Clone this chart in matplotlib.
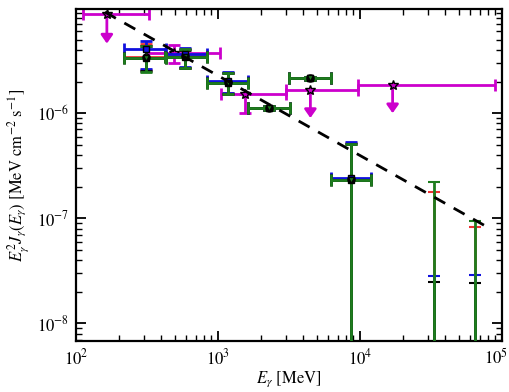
import numpy as np
import matplotlib
matplotlib.use("Agg")
import matplotlib.pyplot as plt
from matplotlib.transforms import ScaledTranslation

plt.rcParams['font.family'] = 'serif'
plt.rcParams['font.serif'] = ['STIXGeneral', 'Liberation Serif', 'DejaVu Serif']
plt.rcParams['mathtext.fontset'] = 'stix'

# ---- binned spectral points (4 analysis variants) ----
bin_E = [311, 590, 1180, 2300, 4450, 8650]
bin_lo = [218, 425, 837, 1630, 3180, 6250]
bin_hi = [430, 837, 1630, 3200, 6250, 12000]

red_F = [3.41e-6, 3.50e-6, 1.97e-6, 1.12e-6, 2.15e-6, 2.35e-7]
red_up = [4.54e-6, 4.05e-6, 2.40e-6, 1.16e-6, 2.22e-6, 5.2e-7]
red_dn = [2.55e-6, 2.70e-6, 1.55e-6, 1.08e-6, 2.08e-6, 1e-12]

blue_F = [4.07e-6, 3.65e-6, 2.02e-6, 1.12e-6, 2.15e-6, 2.40e-7]
blue_up = [4.85e-6, 4.16e-6, 2.46e-6, 1.16e-6, 2.22e-6, 5.3e-7]
blue_dn = [2.62e-6, 2.74e-6, 1.55e-6, 1.08e-6, 2.08e-6, 1e-12]

green_F = [3.34e-6, 3.45e-6, 1.93e-6, 1.12e-6, 2.15e-6, 2.30e-7]
green_up = [4.40e-6, 4.05e-6, 2.40e-6, 1.16e-6, 2.22e-6, 5.1e-7]
green_dn = [2.46e-6, 2.68e-6, 1.52e-6, 1.08e-6, 2.08e-6, 1e-12]

black_F = [3.34e-6, 3.41e-6, 1.93e-6, 1.12e-6, 2.15e-6, 2.30e-7]
black_up = [4.40e-6, 4.00e-6, 2.40e-6, 1.16e-6, 2.22e-6, 5.1e-7]
black_dn = [2.50e-6, 2.70e-6, 1.52e-6, 1.08e-6, 2.08e-6, 1e-12]

# high-energy bins: only upper ends of error bars visible
hi_E = [33500, 65000]
red_hiE = [1.77e-7, 8.2e-8]
blue_hiE = [2.8e-8, 2.9e-8]
green_hiE = [2.2e-7, 9.5e-8]
black_hiE = [2.5e-8, 2.45e-8]
floor = 1e-12

# ---- magenta points ----
mag_E = [490, 1550]
mag_lo = [321, 1050]
mag_hi = [1030, 3010]
mag_F = [3.73e-6, 1.52e-6]
mag_up = [4.44e-6, 1.52e-6]
mag_dn = [3.00e-6, 1.00e-6]

ul_E = [165, 4480, 17000]
ul_lo = [112, 3010, 9700]
ul_hi = [327, 9700, 89000]
ul_F = [8.77e-6, 1.66e-6, 1.85e-6]
ul_arrow = [4.60e-6, 9.0e-7, 1.0e-6]

# ---- power-law model ----
model_E = [160, 79000]
model_F0 = 9.15e-6
model_E0 = 160
model_idx = 0.759

fig = plt.figure(figsize=(5.1, 3.92), dpi=100)
ax = fig.add_axes([0.149, 0.130, 0.835, 0.847])
ax.set_xscale('log')
ax.set_yscale('log')

colors = {'red': '#ee3333', 'blue': '#1010dd', 'black': 'black', 'green': '#1e7d1e'}
markers = {'red': 'o', 'blue': 's', 'black': 's', 'green': 'v'}
series = {
    'red': (red_F, red_up, red_dn, red_hiE),
    'blue': (blue_F, blue_up, blue_dn, blue_hiE),
    'black': (black_F, black_up, black_dn, black_hiE),
    'green': (green_F, green_up, green_dn, green_hiE),
}

# magenta first (underneath)
mE = np.array(mag_E); mF = np.array(mag_F)
ax.errorbar(mE, mF,
            xerr=[mE - np.array(mag_lo), np.array(mag_hi) - mE],
            yerr=[mF - np.array(mag_dn), np.array(mag_up) - mF],
            fmt='*', color='#cc00cc', mfc='#cc00cc', mec='k', ms=7,
            elinewidth=2, capsize=4, capthick=2, zorder=2)
uE = np.array(ul_E); uF = np.array(ul_F)
ax.errorbar(uE, uF, xerr=[uE - np.array(ul_lo), np.array(ul_hi) - uE],
            fmt='*', color='#cc00cc', mfc='#cc00cc', mec='k', ms=7,
            elinewidth=2, capsize=4, capthick=2, zorder=2)
for e, f, a in zip(ul_E, ul_F, ul_arrow):
    ax.annotate('', xy=(e, a), xytext=(e, f),
                arrowprops=dict(arrowstyle='-|>,head_width=0.35,head_length=0.5',
                                color='#cc00cc', lw=2, shrinkA=0, shrinkB=0),
                zorder=2)

bE = np.array(bin_E)
xerr = [bE - np.array(bin_lo), np.array(bin_hi) - bE]
for name, (F, up, dn, hv) in series.items():
    F = np.array(F); up = np.array(up); dn = np.array(dn)
    c = colors[name]
    ax.errorbar(bE, F, xerr=xerr, yerr=[F - dn, up - F], fmt=markers[name],
                color=c, mfc=c, mec='k', ms=5, elinewidth=2, capsize=4,
                capthick=2, zorder=3)
    hv = np.array(hv)
    ax.errorbar(hi_E, [floor] * len(hi_E), yerr=[[0] * len(hi_E), hv - floor],
                fmt='none', ecolor=c, elinewidth=2, capsize=4, capthick=1.5,
                zorder=3)

xm = np.logspace(np.log10(model_E[0]), np.log10(model_E[1]), 50)
ax.plot(xm, model_F0 * (xm / model_E0) ** (-model_idx), color='k', lw=2,
        linestyle=(0, (4.5, 3.5)), zorder=5)

ax.set_xlim(1e2, 1e5)
ax.set_ylim(6.8e-9, 9.8e-6)
ax.set_xlabel(r'$E_\gamma$ [MeV]', fontsize=12, labelpad=1)
ax.set_ylabel(r'$E_\gamma^2 J_\gamma(E_\gamma)$ [MeV cm$^{-2}$ s$^{-1}$]',
              fontsize=12, labelpad=4)
for s in ax.spines.values():
    s.set_linewidth(1.6)
ax.tick_params(which='both', direction='in', top=True, right=True,
               labelsize=12)
ax.tick_params(which='major', length=7, width=1.3, pad=5)
ax.tick_params(which='minor', length=4, width=1)

fig.canvas.draw()
last = None
for tick in ax.xaxis.get_major_ticks():
    if abs(tick.get_loc() - 1e5) < 1:
        last = tick.label1
if last is not None:
    last.set_transform(last.get_transform() +
                       ScaledTranslation(-4 / 72, 0, fig.dpi_scale_trans))

fig.savefig('out.png', dpi=100)
